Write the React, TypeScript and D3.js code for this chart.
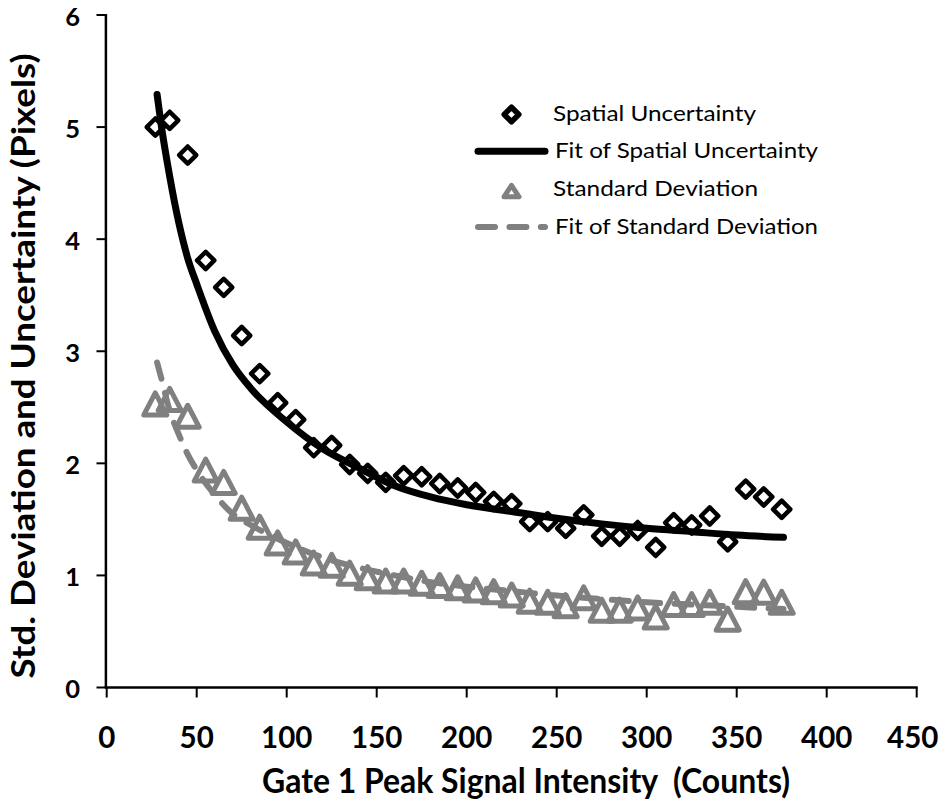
import React from 'react';
import * as d3 from 'd3';

const xValues = [27, 35, 45, 55, 65, 75, 85, 95, 105, 115, 125, 135, 145, 155, 165, 175, 185, 195, 205, 215, 225, 235, 245, 255, 265, 275, 285, 295, 305, 315, 325, 335, 345, 355, 365, 375];
const spatialUncertainty = [5.0, 5.06, 4.75, 3.81, 3.57, 3.14, 2.8, 2.54, 2.39, 2.14, 2.16, 1.99, 1.91, 1.83, 1.89, 1.88, 1.82, 1.78, 1.74, 1.66, 1.64, 1.48, 1.48, 1.42, 1.54, 1.35, 1.35, 1.4, 1.25, 1.47, 1.45, 1.53, 1.3, 1.77, 1.7, 1.59];
const standardDeviation = [2.53, 2.57, 2.42, 1.94, 1.83, 1.6, 1.43, 1.29, 1.21, 1.11, 1.09, 1.02, 0.98, 0.95, 0.95, 0.93, 0.91, 0.89, 0.87, 0.855, 0.825, 0.77, 0.76, 0.73, 0.8, 0.69, 0.69, 0.71, 0.63, 0.74, 0.74, 0.76, 0.61, 0.855, 0.85, 0.76];

const fitX = [28, 30, 35, 40, 45, 50, 60, 70, 80, 100, 120, 140, 160, 180, 200, 225, 250, 275, 300, 325, 350, 376];
const fitSpatial = [5.29, 5.05, 4.56, 4.15, 3.83, 3.6, 3.18, 2.88, 2.67, 2.37, 2.13, 1.96, 1.8, 1.7, 1.63, 1.57, 1.51, 1.46, 1.42, 1.39, 1.36, 1.34];
const fitStd = [2.9, 2.78, 2.47, 2.26, 2.08, 1.94, 1.72, 1.55, 1.45, 1.29, 1.16, 1.07, 1.0, 0.94, 0.9, 0.86, 0.82, 0.79, 0.76, 0.74, 0.72, 0.7];

const xTicks = [0, 50, 100, 150, 200, 250, 300, 350, 400, 450];
const yTicks = [0, 1, 2, 3, 4, 5, 6];

const legendLabels = ['Spatial Uncertainty', 'Fit of Spatial Uncertainty', 'Standard Deviation', 'Fit of Standard Deviation'];
const legendWidths = [203, 263, 205, 263];

const W = 947;
const H = 802;
const FONT = "Lato, 'Open Sans', sans-serif";
const GRAY = '#808080';

const x = d3.scaleLinear().domain([0, 450]).range([106.7, 916.7]);
const y = d3.scaleLinear().domain([0, 6]).range([687.5, 15]);

const diamond = (r: number) => `M0,${-r}L${r},0L0,${r}L${-r},0Z`;
const triangle = (w: number, h: number) => `M0,${-h / 2}L${w / 2},${h / 2}L${-w / 2},${h / 2}Z`;

export default function App() {
  const fitLine = d3
    .line<number>()
    .x((_, i) => x(fitX[i]))
    .y((d) => y(d))
    .curve(d3.curveMonotoneX);

  const legendX0 = 478;
  const legendX1 = 545;
  const legendMid = 511.5;
  const legendTextX = 553;
  const baselines = [120.5, 158.3, 196.1, 233.9];

  return (
    <svg
      width={W}
      height={H}
      style={{ position: 'absolute', left: 0, top: 0, display: 'block', background: '#fff' }}
      fontFamily={FONT}
    >
      <rect width={W} height={H} fill="#fff" />

      {/* axes */}
      <line x1={x(0) - 0.8} x2={x(0) - 0.8} y1={y(6) - 1} y2={y(0)} stroke="#000" strokeWidth={2.5} />
      <line x1={x(0) - 2} x2={x(450) + 1} y1={y(0)} y2={y(0)} stroke="#000" strokeWidth={2.5} />
      {yTicks.map((t) => (
        <g key={'y' + t}>
          <line x1={96.5} x2={x(0)} y1={y(t)} y2={y(t)} stroke="#000" strokeWidth={2} />
          <text x={80} y={y(t) + 10.5} textAnchor="end" fontSize={25.5} fontWeight="bold" fill="#000">
            {t}
          </text>
        </g>
      ))}
      {xTicks.map((t) => (
        <g key={'x' + t}>
          <line x1={x(t)} x2={x(t)} y1={y(0)} y2={y(0) + 10} stroke="#000" strokeWidth={2} />
          <text x={x(t) - (t === 450 ? 4 : 0)} y={748.3} textAnchor="middle" fontSize={29.5} fontWeight="bold" fill="#000">
            {t}
          </text>
        </g>
      ))}

      {/* axis titles */}
      <text
        x={526}
        y={793}
        textAnchor="middle"
        fontSize={34}
        fontWeight="bold"
        textLength={528}
        lengthAdjust="spacingAndGlyphs"
        xmlSpace="preserve"
      >
        {'Gate 1 Peak Signal Intensity  (Counts)'}
      </text>
      <text
        transform="translate(35,366) rotate(-90)"
        textAnchor="middle"
        fontSize={32}
        fontWeight="bold"
        textLength={625}
        lengthAdjust="spacingAndGlyphs"
      >
        Std. Deviation and Uncertainty (Pixels)
      </text>

      {/* Spatial Uncertainty markers */}
      {spatialUncertainty.map((v, i) => (
        <path
          key={'su' + i}
          d={diamond(8.6)}
          transform={`translate(${x(xValues[i])},${y(v)})`}
          fill="none"
          stroke="#000"
          strokeWidth={4.5}
          strokeLinejoin="round"
        />
      ))}
      <path d={fitLine(fitSpatial) || ''} fill="none" stroke="#000" strokeWidth={7} strokeLinecap="round" />

      {/* Standard Deviation markers */}
      {standardDeviation.map((v, i) => (
        <path
          key={'sd' + i}
          d={triangle(23, 22)}
          transform={`translate(${x(xValues[i])},${y(v)})`}
          fill="none"
          stroke={GRAY}
          strokeWidth={5}
          strokeLinejoin="round"
        />
      ))}
      <path
        d={fitLine(fitStd) || ''}
        fill="none"
        stroke={GRAY}
        strokeWidth={6}
        strokeLinecap="round"
        strokeDasharray="17,14.4"
      />

      {/* legend */}
      <g>
        <path
          d={diamond(7.3)}
          transform={`translate(${legendMid},${baselines[0] - 6})`}
          fill="none"
          stroke="#000"
          strokeWidth={5.5}
          strokeLinejoin="round"
        />
        <line x1={legendX0} x2={legendX1} y1={baselines[1] - 7} y2={baselines[1] - 7} stroke="#000" strokeWidth={7} strokeLinecap="round" />
        <path
          d={triangle(15, 11.5)}
          transform={`translate(${legendMid},${baselines[2] - 5})`}
          fill="none"
          stroke={GRAY}
          strokeWidth={5}
          strokeLinejoin="round"
        />
        <line
          x1={legendX0}
          x2={legendX1}
          y1={baselines[3] - 7}
          y2={baselines[3] - 7}
          stroke={GRAY}
          strokeWidth={6}
          strokeLinecap="round"
          strokeDasharray="17,14.4"
        />
        {legendLabels.map((l, i) => (
          <text
            key={l}
            x={legendTextX + (i % 2 === 1 ? 2 : 0)}
            y={baselines[i]}
            fontSize={21}
            textLength={legendWidths[i]}
            lengthAdjust="spacingAndGlyphs"
            fill="#000"
          >
            {l}
          </text>
        ))}
      </g>
    </svg>
  );
}
